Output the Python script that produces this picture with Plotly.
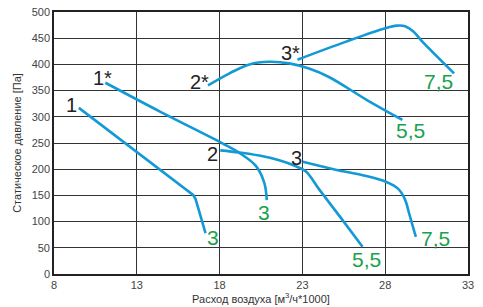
import plotly.graph_objects as go

# Curve data (airflow x1000 m3/h, static pressure Pa)
c1_x = [9.5, 16.4, 16.55, 17.15]
c1_y = [317, 151, 143, 78]
c1s_x = [11.1, 14.4, 18.2, 19.2, 20.2, 20.7, 20.85]
c1s_y = [365, 310, 249, 231, 206, 174, 141]
c2_x = [18.04, 19.2, 20.4, 21.6, 22.5, 23.2, 24.0, 25.3, 26.63]
c2_y = [236, 232, 226, 217, 207, 196, 162, 108, 52]
c2s_x = [17.3, 18.6, 19.8, 21.0, 22.2, 23.4, 24.6, 26.9, 29.04]
c2s_y = [360, 383, 400, 405, 402, 392, 376, 332, 294]
c3_x = [23.02, 25.0, 26.7, 28.04, 28.8, 29.2, 29.45, 29.85]
c3_y = [214, 199, 188, 176, 162, 142, 115, 71]
c3s_x = [22.7, 25.6, 28.0, 28.7, 29.2, 29.7, 30.2, 32.16]
c3s_y = [409, 443, 469, 474, 473, 463, 445, 383]

start_labels = ["1", "1*", "2", "2*", "3", "3*"]
end_labels = ["3", "3", "5,5", "5,5", "7,5", "7,5"]

x_ticks = [8, 13, 18, 23, 28, 33]
y_ticks = list(range(0, 501, 50))

curves = [
    (c1_x, c1_y, "linear"),
    (c1s_x, c1s_y, "spline"),
    (c2_x, c2_y, "spline"),
    (c2s_x, c2s_y, "spline"),
    (c3_x, c3_y, "spline"),
    (c3s_x, c3s_y, "spline"),
]
# label offsets in pixels (dx, dy up) relative to curve start / end
start_off = [(-7, 3), (-3, 5), (-8, -4), (-9, 3), (-6, 4), (-7, 7)]
end_off = [(7, -4), (-3, -12), (4, -13), (8, -11), (20, -2), (-16, -8)]

BLUE = "#139ad6"
GREEN = "#18a24b"

fig = go.Figure()
for (xs, ys, shape) in curves:
    fig.add_trace(go.Scatter(x=xs, y=ys, mode="lines",
                             line=dict(color=BLUE, width=2.6, shape=shape, smoothing=1.0),
                             showlegend=False, hoverinfo="skip"))

anns = []
for i, (xs, ys, _) in enumerate(curves):
    dx, dy = start_off[i]
    anns.append(dict(x=xs[0], y=ys[0], text=start_labels[i], showarrow=False,
                     xshift=dx, yshift=dy, xanchor="center", yanchor="middle",
                     font=dict(family="Liberation Sans, Arial", size=20, color="#222")))
    dx, dy = end_off[i]
    anns.append(dict(x=xs[-1], y=ys[-1], text=end_labels[i], showarrow=False,
                     xshift=dx, yshift=dy, xanchor="center", yanchor="middle",
                     font=dict(family="Liberation Sans, Arial", size=21, color=GREEN)))

fig.update_layout(
    width=483, height=307,
    margin=dict(l=54, r=15, t=12, b=33),
    paper_bgcolor="white", plot_bgcolor="white",
    font=dict(family="Liberation Sans, Arial", size=11, color="#444"),
    annotations=anns,
    xaxis=dict(range=[8, 33], tickvals=x_ticks, showgrid=True, gridcolor="#333",
               gridwidth=1.4, showline=True, linecolor="#222", linewidth=1.6, mirror=True,
               zeroline=False, ticks="", tickfont=dict(size=11, color="#444"),
               automargin=False, ticklabeloverflow="allow",
               title=dict(text="Расход воздуха [м<sup>3</sup>/ч*1000]", standoff=2,
                          font=dict(size=11, color="#333"))),
    yaxis=dict(range=[0, 500], tickvals=y_ticks, showgrid=True, gridcolor="#333",
               gridwidth=1.4, showline=True, linecolor="#222", linewidth=1.6, mirror=True,
               zeroline=False, ticks="", tickfont=dict(size=11, color="#444"),
               automargin=False, ticklabeloverflow="allow",
               title=dict(text="Статическое давление [Па]", standoff=8,
                          font=dict(size=11, color="#333"))),
)
fig.write_html("out.html", config={"displayModeBar": False},
               post_script="document.body.style.margin='0';")
